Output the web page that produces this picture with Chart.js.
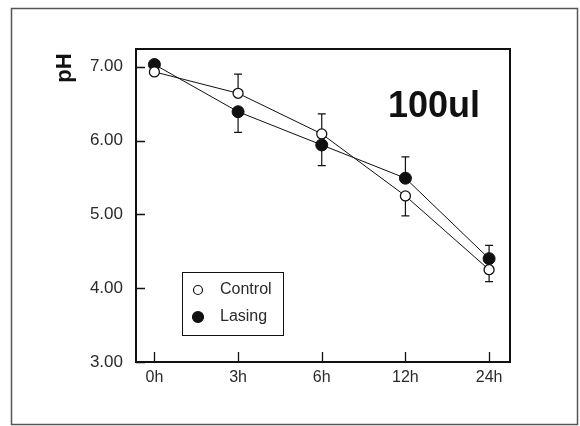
<!DOCTYPE html>
<html>
<head>
<meta charset="utf-8">
<script src="https://cdn.jsdelivr.net/npm/chart.js@4/dist/chart.umd.min.js"></script>
<style>
  html, body { margin: 0; padding: 0; background: #fff; }
  #wrap { width: 580px; height: 426px; position: relative; }
</style>
</head>
<body>
<div id="wrap"><canvas id="phChart"></canvas></div>
<script>
// time points and pH readings
const timeLabels = ['0h', '3h', '6h', '12h', '24h'];
const yTicks = [3, 4, 5, 6, 7];

const controlPH = [6.93, 6.64, 6.09, 5.25, 4.25];
const lasingPH = [7.03, 6.39, 5.94, 5.49, 4.40];

// one-sided error bars (0 = not drawn)
const controlErrUp = [0, 0.26, 0.27, 0, 0];
const controlErrDown = [0, 0, 0, 0.27, 0.16];
const lasingErrUp = [0, 0, 0, 0.29, 0.18];
const lasingErrDown = [0, 0.28, 0.28, 0, 0];

const ink = '#111';
const textColor = '#2a2a2a';

function toPoints(values) {
    return values.map((v, i) => ({ x: i, y: v }));
}

const errorBars = {
    id: 'errorBars',
    beforeDatasetsDraw(chart) {
        const ctx = chart.ctx;
        const yScale = chart.scales.y;
        ctx.save();
        ctx.strokeStyle = ink;
        ctx.lineWidth = 1.2;
        chart.data.datasets.forEach((ds, di) => {
            const meta = chart.getDatasetMeta(di);
            meta.data.forEach((pt, i) => {
                const v = ds.data[i].y;
                [[ds.errUp[i], 1], [ds.errDown[i], -1]].forEach(([e, dir]) => {
                    if (!e) return;
                    const yEnd = yScale.getPixelForValue(v + dir * e);
                    ctx.beginPath();
                    ctx.moveTo(pt.x, pt.y);
                    ctx.lineTo(pt.x, yEnd);
                    ctx.moveTo(pt.x - 4, yEnd);
                    ctx.lineTo(pt.x + 4, yEnd);
                    ctx.stroke();
                });
            });
        });
        ctx.restore();
    }
};

const frameAndLabels = {
    id: 'frameAndLabels',
    beforeDraw(chart) {
        const ctx = chart.ctx;
        ctx.save();
        ctx.fillStyle = '#fff';
        ctx.fillRect(0, 0, chart.width, chart.height);
        // outer frame
        ctx.strokeStyle = '#555';
        ctx.lineWidth = 1.5;
        ctx.strokeRect(11.5, 8.5, 566, 416);
        ctx.restore();
    },
    afterDraw(chart) {
        const ctx = chart.ctx;
        const a = chart.chartArea;
        const xs = chart.scales.x, ys = chart.scales.y;
        ctx.save();
        // plot box
        ctx.strokeStyle = ink;
        ctx.lineWidth = 2;
        ctx.strokeRect(a.left, a.top, a.right - a.left, a.bottom - a.top);
        // inward ticks
        ctx.lineWidth = 1.3;
        ctx.beginPath();
        yTicks.forEach(v => {
            const y = Math.round(ys.getPixelForValue(v)) + 0.5;
            ctx.moveTo(a.left, y);
            ctx.lineTo(a.left + 9, y);
        });
        timeLabels.forEach((_, i) => {
            const x = Math.round(xs.getPixelForValue(i)) + 0.5;
            ctx.moveTo(x, a.bottom);
            ctx.lineTo(x, a.bottom - 10);
        });
        ctx.stroke();

        // axis title
        ctx.fillStyle = ink;
        ctx.font = 'bold 22px "Liberation Sans", Arial, sans-serif';
        ctx.translate(65, 68);
        ctx.rotate(-Math.PI / 2);
        ctx.textAlign = 'center';
        ctx.textBaseline = 'middle';
        ctx.fillText('pH', 0, 0);
        ctx.setTransform(1, 0, 0, 1, 0, 0);

        // panel label
        ctx.font = 'bold 36px "Liberation Sans", Arial, sans-serif';
        ctx.textAlign = 'left';
        ctx.textBaseline = 'alphabetic';
        ctx.fillText('100ul', 388, 117);

        // legend box
        ctx.lineWidth = 1;
        ctx.strokeStyle = ink;
        ctx.strokeRect(182.5, 272.5, 101, 63);
        ctx.font = '16px "Liberation Sans", Arial, sans-serif';
        ctx.textBaseline = 'middle';
        chart.data.datasets.forEach((ds, di) => {
            const y = 290 + di * 27;
            ctx.beginPath();
            ctx.arc(198, y, ds.pointRadius - 0.5, 0, Math.PI * 2);
            ctx.fillStyle = ds.pointBackgroundColor;
            ctx.fill();
            ctx.lineWidth = 1.2;
            ctx.stroke();
            ctx.fillStyle = textColor;
            ctx.fillText(ds.label, 220, y);
        });
        ctx.restore();
    }
};

const ctx = document.getElementById('phChart').getContext('2d');

new Chart(ctx, {
    type: 'line',
    data: {
        datasets: [
            {
                label: 'Control',
                data: toPoints(controlPH),
                errUp: controlErrUp,
                errDown: controlErrDown,
                borderColor: ink,
                borderWidth: 1,
                pointRadius: 5,
                pointBackgroundColor: '#fff',
                pointBorderColor: ink,
                pointBorderWidth: 1.3
            },
            {
                label: 'Lasing',
                data: toPoints(lasingPH),
                errUp: lasingErrUp,
                errDown: lasingErrDown,
                borderColor: ink,
                borderWidth: 1,
                pointRadius: 6,
                pointBackgroundColor: ink,
                pointBorderColor: ink,
                pointBorderWidth: 1
            }
        ]
    },
    options: {
        responsive: true,
        maintainAspectRatio: false,
        animation: false,
        layout: { padding: { top: 49, right: 70, left: 0, bottom: 0 } },
        plugins: {
            legend: { display: false },
            tooltip: { enabled: false }
        },
        scales: {
            x: {
                type: 'linear',
                min: -0.22,
                max: 4.25,
                afterBuildTicks: (scale) => {
                    scale.ticks = timeLabels.map((_, i) => ({ value: i }));
                },
                afterFit: (scale) => { scale.height = 64; },
                grid: { display: false, drawTicks: false },
                border: { display: false },
                ticks: {
                    padding: 6,
                    color: textColor,
                    font: { family: '"Liberation Sans", Arial, sans-serif', size: 16 },
                    callback: (v) => timeLabels[v]
                }
            },
            y: {
                min: 3,
                max: 7.24,
                afterBuildTicks: (scale) => {
                    scale.ticks = yTicks.map(v => ({ value: v }));
                },
                afterFit: (scale) => { scale.width = 136; },
                grid: { display: false, drawTicks: false },
                border: { display: false },
                ticks: {
                    padding: 13,
                    color: textColor,
                    font: { family: '"Liberation Sans", Arial, sans-serif', size: 17 },
                    callback: (v) => v.toFixed(2)
                }
            }
        }
    },
    plugins: [frameAndLabels, errorBars]
});
</script>
</body>
</html>
